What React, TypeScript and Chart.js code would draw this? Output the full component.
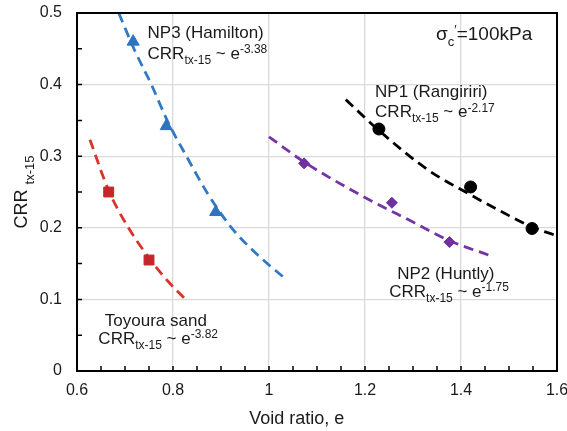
import React, { useEffect, useRef } from "react";
import { Chart, registerables } from "chart.js";

Chart.register(...registerables);

// ---- data ----
const xTickValues = [0.6, 0.8, 1.0, 1.2, 1.4, 1.6];
const yTickValues = [0, 0.1, 0.2, 0.3, 0.4, 0.5];

// measured points
const np3E = [0.717, 0.786, 0.889];
const np3CRR = [0.46, 0.342, 0.222];
const toyE = [0.666, 0.75];
const toyCRR = [0.25, 0.155];
const np2E = [1.073, 1.256, 1.376];
const np2CRR = [0.29, 0.235, 0.18];
const np1E = [1.229, 1.42, 1.548];
const np1CRR = [0.338, 0.257, 0.199];

// trend curves
const np3FitE = [0.687, 0.72, 0.755, 0.79, 0.828, 0.872, 0.922, 0.975, 1.032];
const np3FitCRR = [0.5, 0.448, 0.4, 0.347, 0.3, 0.248, 0.2, 0.163, 0.13];
const toyFitE = [0.627, 0.666, 0.7, 0.75, 0.79, 0.829];
const toyFitCRR = [0.323, 0.252, 0.208, 0.158, 0.125, 0.098];
const np2FitE = [1.0, 1.073, 1.19, 1.3, 1.376, 1.457];
const np2FitCRR = [0.327, 0.292, 0.246, 0.208, 0.182, 0.162];
const np1FitE = [1.16, 1.229, 1.331, 1.42, 1.5, 1.548, 1.594];
const np1FitCRR = [0.379, 0.336, 0.281, 0.246, 0.217, 0.201, 0.19];

// annotation texts
const seriesNames = ["NP3 (Hamilton)", "Toyoura sand", "NP2 (Huntly)", "NP1 (Rangiriri)"];
const exponents = ["-3.38", "-3.82", "-1.75", "-2.17"];
const crrMain = "CRR";
const crrSub = "tx-15";
const xTitle = "Void ratio, e";
const stressLabel = ["σ", "c", "′", "=100kPa"];

// annotation anchors (data coords: [x1, y1, x2, y2])
const labelAnchors = [
  [0.747, 0.473, 0.747, 0.4445],
  [0.658, 0.0717, 0.6445, 0.0468],
  [1.267, 0.137, 1.2505, 0.1117],
  [1.221, 0.391, 1.221, 0.363],
];
const stressAnchor = [1.348, 0.472];
const xTitleAnchor = 1.058; // data x of the title centre

const FONT = '"Liberation Sans", Arial, sans-serif';
const TEXT = "#1a1a1a";

const zip = (xs: number[], ys: number[]) => xs.map((x, i) => ({ x, y: ys[i] }));
const fmt = (v: number) => String(Math.round(v * 100) / 100);

type Seg = { t: string; k: "n" | "sub" | "sup" };

function drawRich(ctx: CanvasRenderingContext2D, x: number, yc: number, segs: Seg[], size: number, small: number) {
  const base = yc + size * 0.358;
  let cx = x;
  for (const s of segs) {
    const fs = s.k === "n" ? size : small;
    ctx.font = `${fs}px ${FONT}`;
    const dy = s.k === "sub" ? size * 0.3 : s.k === "sup" ? -size * 0.33 : 0;
    ctx.fillText(s.t, cx, base + dy);
    cx += ctx.measureText(s.t).width;
  }
}

const decorPlugin = {
  id: "decor",
  afterDatasetsDraw(chart: any) {
    const { ctx, chartArea: a, scales } = chart;
    const xs = scales.x;
    const ys = scales.y;
    ctx.save();
    ctx.fillStyle = TEXT;
    ctx.textAlign = "left";
    ctx.textBaseline = "alphabetic";
    labelAnchors.forEach((p, i) => {
      drawRich(ctx, xs.getPixelForValue(p[0]), ys.getPixelForValue(p[1]), [{ t: seriesNames[i], k: "n" }], 17, 12);
      drawRich(
        ctx,
        xs.getPixelForValue(p[2]),
        ys.getPixelForValue(p[3]),
        [
          { t: crrMain, k: "n" },
          { t: crrSub, k: "sub" },
          { t: " ~ e", k: "n" },
          { t: exponents[i], k: "sup" },
        ],
        17,
        12
      );
    });
    drawRich(
      ctx,
      xs.getPixelForValue(stressAnchor[0]),
      ys.getPixelForValue(stressAnchor[1]),
      [
        { t: stressLabel[0], k: "n" },
        { t: stressLabel[1], k: "sub" },
        { t: stressLabel[2], k: "sup" },
        { t: stressLabel[3], k: "n" },
      ],
      19,
      13
    );

    // x title
    ctx.font = `18px ${FONT}`;
    ctx.textAlign = "center";
    ctx.fillText(xTitle, xs.getPixelForValue(xTitleAnchor), a.bottom + 53);
    ctx.textAlign = "left";

    // inward minor ticks
    ctx.strokeStyle = "#000";
    ctx.lineWidth = 1.5;
    ctx.beginPath();
    for (let k = 13; k <= 31; k++) {
      const px = xs.getPixelForValue(k * 0.05);
      ctx.moveTo(px, a.bottom);
      ctx.lineTo(px, a.bottom - 5);
    }
    for (let k = 1; k <= 9; k++) {
      const py = ys.getPixelForValue(k * 0.05);
      ctx.moveTo(a.left, py);
      ctx.lineTo(a.left + 5, py);
    }
    ctx.stroke();

    // frame
    ctx.lineWidth = 2;
    ctx.strokeRect(a.left, a.top, a.right - a.left, a.bottom - a.top);

    // y title with subscript
    ctx.translate(21, (a.top + a.bottom) / 2);
    ctx.rotate(-Math.PI / 2);
    ctx.font = `18px ${FONT}`;
    const w1 = ctx.measureText(crrMain + " ").width;
    ctx.font = `13px ${FONT}`;
    const w2 = ctx.measureText(crrSub).width;
    const start = -(w1 + w2) / 2;
    ctx.font = `18px ${FONT}`;
    ctx.fillText(crrMain, start, 6);
    ctx.font = `13px ${FONT}`;
    ctx.fillText(crrSub, start + w1, 13);
    ctx.restore();
  },
};

export default function App() {
  const ref = useRef<HTMLCanvasElement | null>(null);
  useEffect(() => {
    if (!ref.current) return;
    const lineDs = (data: any[], color: string) => ({
      type: "line" as const,
      data,
      borderColor: color,
      borderWidth: 2.8,
      borderDash: [10, 6],
      pointRadius: 0,
      showLine: true,
      fill: false,
      cubicInterpolationMode: "monotone" as const,
      order: 2,
    });
    const ptDs = (data: any[], color: string, style: string, r: number) => ({
      type: "scatter" as const,
      data,
      backgroundColor: color,
      borderColor: color,
      pointStyle: style,
      pointRadius: r,
      borderWidth: 1,
      order: 1,
    });
    const chart = new Chart(ref.current, {
      type: "scatter",
      data: {
        datasets: [
          lineDs(zip(np3FitE, np3FitCRR), "#3179c4"),
          lineDs(zip(toyFitE, toyFitCRR), "#d8342c"),
          lineDs(zip(np2FitE, np2FitCRR), "#7434a6"),
          lineDs(zip(np1FitE, np1FitCRR), "#000000"),
          ptDs(zip(np3E, np3CRR), "#2e73bd", "triangle", 7),
          ptDs(zip(toyE, toyCRR), "#c4262a", "rect", 7),
          ptDs(zip(np2E, np2CRR), "#7030a0", "rectRot", 5.5),
          ptDs(zip(np1E, np1CRR), "#000000", "circle", 6),
        ] as any,
      },
      plugins: [decorPlugin],
      options: {
        animation: false,
        responsive: false,
        devicePixelRatio: 1,
        layout: { padding: { top: 13, right: 10, left: 0, bottom: 0 } },
        plugins: { legend: { display: false }, tooltip: { enabled: false } },
        scales: {
          x: {
            type: "linear",
            min: 0.6,
            max: 1.6,
            afterBuildTicks: (s: any) => {
              s.ticks = xTickValues.map((v) => ({ value: v }));
            },
            afterFit: (s: any) => {
              s.height = 60;
              s.paddingLeft = 0;
              s.paddingRight = 0;
            },
            ticks: {
              callback: (v: any) => fmt(Number(v)),
              color: TEXT,
              font: { family: FONT, size: 16 },
              padding: 10,
              maxRotation: 0,
            },
            grid: { color: "#d9d9d9", lineWidth: 1.3, drawTicks: false },
            border: { display: false },
          },
          y: {
            type: "linear",
            min: 0,
            max: 0.5,
            afterBuildTicks: (s: any) => {
              s.ticks = yTickValues.map((v) => ({ value: v }));
            },
            afterFit: (s: any) => {
              s.width = 77;
              s.paddingTop = 0;
              s.paddingBottom = 0;
            },
            ticks: {
              callback: (v: any) => fmt(Number(v)),
              color: TEXT,
              font: { family: FONT, size: 16 },
              padding: 15,
            },
            grid: { color: "#d9d9d9", lineWidth: 1.3, drawTicks: false },
            border: { display: false },
          },
        },
      } as any,
    });
    return () => chart.destroy();
  }, []);
  return (
    <div style={{ position: "absolute", left: 0, top: 0, width: 567, height: 431, background: "#fff" }}>
      <canvas ref={ref} width={567} height={431} style={{ display: "block" }} />
    </div>
  );
}
